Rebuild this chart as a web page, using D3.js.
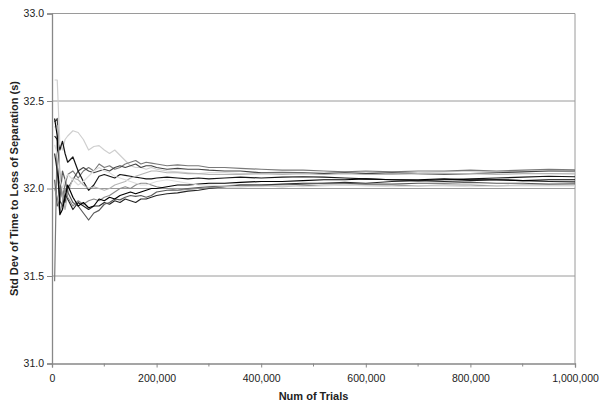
<!DOCTYPE html>
<html>
<head>
<meta charset="utf-8">
<script src="https://cdn.jsdelivr.net/npm/d3@7"></script>
<style>
body { margin: 0; background: #fff; }
text { font-family: "Liberation Sans", Arial, sans-serif; fill: #222; }
.tick text { font-size: 10.5px; }
.title { font-size: 11px; font-weight: bold; }
</style>
</head>
<body>
<script>

// x positions shared by every run (number of trials)
var trials = [5000,10000,15000,20000,25000,30000,40000,50000,60000,70000,80000,90000,100000,
  110000,120000,130000,140000,150000,160000,170000,180000,190000,200000,
  220000,240000,260000,280000,300000,330000,360000,
  400000,440000,480000,520000,560000,600000,
  650000,700000,750000,800000,850000,900000,950000,1000000];

var run1 = [32.62,32.62,32.25,32.22,32.28,32.30,32.33,32.32,32.28,32.22,32.24,32.245,32.22,
  32.20,32.22,32.19,32.16,32.13,32.12,32.12,32.11,32.12,32.11,
  32.10,32.095,32.09,32.085,32.09,32.09,32.085,
  32.09,32.095,32.09,32.09,32.095,32.09,
  32.095,32.09,32.095,32.10,32.095,32.10,32.10,32.095];
var run2 = [31.47,32.30,32.05,31.95,32.02,32.08,32.10,32.06,32.10,32.12,32.10,32.14,32.12,
  32.13,32.11,32.12,32.14,32.15,32.16,32.14,32.15,32.145,32.14,
  32.13,32.135,32.13,32.13,32.12,32.12,32.115,
  32.11,32.105,32.105,32.10,32.095,32.10,
  32.095,32.10,32.10,32.105,32.10,32.105,32.11,32.107];
var run3 = [32.38,32.40,32.05,31.95,31.92,32.00,32.05,32.10,32.12,32.10,32.09,32.10,32.11,
  32.10,32.12,32.13,32.12,32.13,32.14,32.12,32.13,32.13,32.12,
  32.11,32.115,32.11,32.11,32.105,32.10,32.10,
  32.09,32.09,32.09,32.085,32.09,32.085,
  32.09,32.085,32.08,32.085,32.09,32.095,32.10,32.10];
var run4 = [32.30,32.28,32.22,32.27,32.20,32.15,32.18,32.10,32.04,31.99,32.02,32.07,32.08,
  32.07,32.06,32.08,32.075,32.07,32.065,32.06,32.055,32.055,32.06,
  32.065,32.06,32.055,32.06,32.055,32.06,32.065,
  32.06,32.065,32.067,32.065,32.06,32.055,
  32.05,32.045,32.05,32.055,32.06,32.065,32.07,32.067];
var run5 = [32.35,32.36,32.10,31.95,31.88,31.97,32.06,32.05,32.02,32.00,32.01,32.00,31.99,
  32.00,32.02,32.03,32.04,32.06,32.07,32.08,32.09,32.10,32.10,
  32.09,32.09,32.085,32.085,32.08,32.08,32.08,
  32.085,32.08,32.085,32.08,32.085,32.08,
  32.08,32.085,32.085,32.085,32.08,32.085,32.085,32.084];
var run6 = [32.20,32.10,31.93,31.90,31.97,31.94,31.88,31.92,31.90,31.88,31.90,31.90,31.92,
  31.91,31.93,31.92,31.94,31.93,31.92,31.94,31.94,31.95,31.96,
  31.97,31.975,31.985,31.99,32.00,32.01,32.02,
  32.02,32.025,32.03,32.03,32.035,32.03,
  32.04,32.045,32.04,32.045,32.05,32.045,32.04,32.038];
var run7 = [32.05,31.90,31.93,32.10,32.05,31.98,31.92,31.90,31.86,31.82,31.86,31.875,31.91,
  31.92,31.94,31.935,31.95,31.96,31.955,31.96,31.95,31.96,31.98,
  31.99,31.99,32.00,32.005,32.01,32.015,32.02,
  32.02,32.02,32.025,32.03,32.03,32.025,
  32.025,32.03,32.03,32.035,32.03,32.03,32.025,32.027];
var run8 = [32.00,31.95,31.86,31.92,32.00,31.95,31.90,31.93,31.91,31.93,31.94,31.93,31.95,
  31.96,31.98,32.00,32.01,32.00,32.02,32.03,32.03,32.02,32.01,
  32.00,31.99,31.995,32.00,32.005,32.01,32.01,
  32.015,32.01,32.015,32.02,32.02,32.02,
  32.02,32.015,32.02,32.02,32.015,32.02,32.02,32.02];
var run9 = [32.40,32.30,31.85,31.88,31.95,32.02,31.95,31.90,31.92,31.89,31.90,31.94,31.93,
  31.95,31.94,31.96,31.97,31.98,31.97,31.98,31.99,32.00,32.00,
  32.01,32.02,32.02,32.025,32.03,32.03,32.035,
  32.04,32.04,32.045,32.05,32.05,32.055,
  32.05,32.05,32.055,32.05,32.05,32.045,32.05,32.05];
var run10 = [32.25,32.20,32.05,32.00,32.05,32.08,32.05,32.02,32.04,32.07,32.10,32.12,32.10,
  32.09,32.07,32.06,32.05,32.04,32.03,32.02,32.02,32.03,32.04,
  32.05,32.04,32.03,32.02,32.02,32.015,32.01,
  32.01,32.015,32.01,32.015,32.02,32.015,
  32.01,32.015,32.015,32.01,32.015,32.015,32.015,32.015];

var runs = [run1, run2, run3, run4, run5, run6, run7, run8, run9, run10];
var runColors = ["#cfcfcf", "#7a7a7a", "#454545", "#151515", "#b5b5b5",
                 "#262626", "#5a5a5a", "#8c8c8c", "#000000", "#dddddd"];

var yTicks = [31.0, 31.5, 32.0, 32.5, 33.0];
var xMajor = [0, 200000, 400000, 600000, 800000, 1000000];
var xMinor = [100000, 300000, 500000, 700000, 900000];

var W = 599, H = 403;
var m = {left: 52, right: 24, top: 13.5, bottom: 39.5};

var svg = d3.select("body").append("svg").attr("width", W).attr("height", H);

var x = d3.scaleLinear().domain([0, 1000000]).range([m.left, W - m.right]);
var y = d3.scaleLinear().domain([31, 33]).range([H - m.bottom, m.top]);

// gridlines
svg.append("g").selectAll("line").data(yTicks.slice(1)).join("line")
  .attr("x1", x(0)).attr("x2", x(1000000))
  .attr("y1", d => y(d)).attr("y2", d => y(d))
  .attr("stroke", "#9a9a9a").attr("stroke-width", 1);

// right border
svg.append("line")
  .attr("x1", x(1000000)).attr("x2", x(1000000))
  .attr("y1", y(33)).attr("y2", y(31))
  .attr("stroke", "#9a9a9a");

// runs
var line = d3.line().x((d, i) => x(trials[i])).y(d => y(d));
svg.append("g").selectAll("path").data(runs).join("path")
  .attr("d", line)
  .attr("fill", "none")
  .attr("stroke", (d, i) => runColors[i])
  .attr("stroke-width", 1.2)
  .attr("stroke-linejoin", "round");

// y axis
var yAxis = svg.append("g")
  .attr("transform", "translate(" + m.left + ",0)")
  .call(d3.axisLeft(y).tickValues(yTicks).tickFormat(d3.format(".1f")).tickSize(5).tickPadding(3));

// x axis
var xAxis = svg.append("g")
  .attr("transform", "translate(0," + (H - m.bottom) + ")")
  .call(d3.axisBottom(x).tickValues(xMajor).tickFormat(d3.format(",")).tickSize(4).tickPadding(7));

xAxis.append("g").selectAll("line").data(xMinor).join("line")
  .attr("x1", d => x(d)).attr("x2", d => x(d))
  .attr("y1", 0).attr("y2", 3)
  .attr("stroke", "#888");

svg.selectAll(".domain").attr("stroke", "#888").attr("stroke-width", 1.3);
svg.selectAll(".tick line").attr("stroke", "#888");

// titles
svg.append("text").attr("class", "title")
  .attr("x", (x(0) + x(1000000)) / 2).attr("y", 400)
  .attr("text-anchor", "middle").text("Num of Trials");

svg.append("text").attr("class", "title")
  .attr("transform", "translate(18," + y(32) + ") rotate(-90)")
  .attr("text-anchor", "middle").text("Std Dev of Time to Loss of Separation (s)");

</script>
</body>
</html>
